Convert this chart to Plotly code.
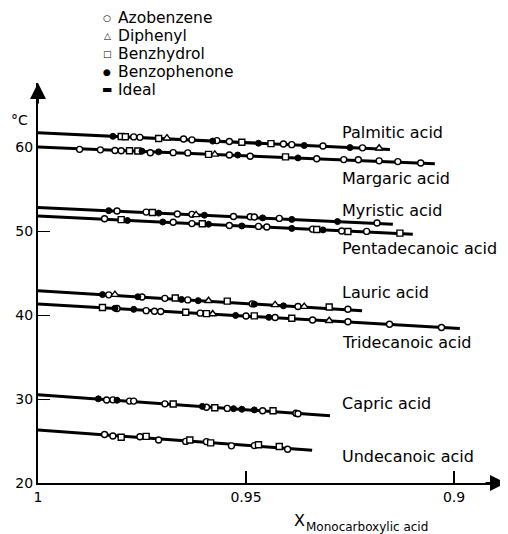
import plotly.graph_objects as go

# ---------------- data ----------------
acids = ["Palmitic acid", "Margaric acid", "Myristic acid", "Pentadecanoic acid",
         "Lauric acid", "Tridecanoic acid", "Capric acid", "Undecanoic acid"]

# ideal lines: start at x = 1, end at ideal_end_x
ideal_start_T = [61.7, 60.0, 52.8, 51.8, 42.9, 41.3, 30.5, 26.3]
ideal_end_x = [0.9154, 0.9046, 0.9147, 0.9099, 0.9221, 0.8986, 0.9298, 0.9341]
ideal_end_T = [59.7, 58.0, 50.8, 49.6, 40.5, 38.4, 28.0, 23.9]

# solvent codes: A Azobenzene, D Diphenyl, H Benzhydrol, B Benzophenone
palmitic_x = [0.982, 0.980, 0.979, 0.977, 0.9755, 0.971, 0.969, 0.965, 0.963, 0.958, 0.957,
              0.954, 0.951, 0.947, 0.944, 0.941, 0.939, 0.936, 0.9315, 0.925, 0.922, 0.918]
palmitic_T = [61.27, 61.25, 61.22, 61.2, 61.15, 61.02, 61.05, 60.95, 60.85, 60.7, 60.76,
              60.65, 60.57, 60.45, 60.4, 60.36, 60.28, 60.18, 60.12, 59.93, 59.9, 59.85]
palmitic_s = list("BHHAAHDAABAAHBHAABABAD")

margaric_x = [0.990, 0.985, 0.9815, 0.980, 0.978, 0.976, 0.975, 0.973, 0.971, 0.9675, 0.964, 0.959,
              0.9575, 0.954, 0.952, 0.949, 0.9405, 0.9375, 0.933, 0.9265, 0.923, 0.918, 0.9135, 0.908]
margaric_T = [59.72, 59.66, 59.58, 59.55, 59.56, 59.52, 59.5, 59.32, 59.42, 59.33, 59.3, 59.12,
              59.12, 59.05, 59.04, 58.9, 58.82, 58.7, 58.6, 58.5, 58.48, 58.35, 58.26, 58.1]
margaric_s = list("AAAAHHBABAAHDABAHBAAAAAA")

myristic_x = [0.983, 0.981, 0.974, 0.9725, 0.971, 0.9665, 0.963, 0.962, 0.960, 0.953, 0.949,
              0.948, 0.946, 0.942, 0.939, 0.928, 0.9185]
myristic_T = [52.42, 52.38, 52.25, 52.2, 52.13, 52.02, 51.98, 51.92, 51.88, 51.72, 51.7,
              51.66, 51.56, 51.5, 51.38, 51.12, 50.95]
myristic_s = list("BAAHBAADBAAABABBA")

pentadecanoic_x = [0.984, 0.980, 0.9785, 0.970, 0.9675, 0.963, 0.9605, 0.959, 0.954, 0.951,
                   0.947, 0.945, 0.939, 0.934, 0.933, 0.9315, 0.927, 0.9255, 0.921, 0.913]
pentadecanoic_T = [51.45, 51.35, 51.25, 51.07, 51.05, 50.88, 50.86, 50.8, 50.66, 50.6,
                   50.55, 50.47, 50.31, 50.22, 50.18, 50.13, 50.0, 49.94, 49.95, 49.75]
pentadecanoic_s = list("AHBBAAHBABAABAHBAHAH")

lauric_x = [0.9845, 0.983, 0.9815, 0.976, 0.975, 0.9695, 0.967, 0.9655, 0.964, 0.9615,
            0.959, 0.9545, 0.9485, 0.948, 0.943, 0.941, 0.9375, 0.936, 0.930, 0.9255]
lauric_T = [42.43, 42.4, 42.42, 42.17, 42.15, 41.98, 42.02, 41.85, 41.8, 41.71,
            41.7, 41.65, 41.33, 41.29, 41.2, 41.09, 41.02, 41.0, 40.95, 40.68]
lauric_s = list("BADBAAHBABDHABDBADHA")

tridecanoic_x = [0.9845, 0.9815, 0.981, 0.977, 0.974, 0.972, 0.9705, 0.9645, 0.961, 0.9595, 0.958,
                 0.9525, 0.950, 0.948, 0.9445, 0.943, 0.939, 0.934, 0.930, 0.9255, 0.9155, 0.903]
tridecanoic_T = [40.9, 40.8, 40.77, 40.67, 40.52, 40.45, 40.42, 40.32, 40.22, 40.16, 40.12,
                 39.95, 39.88, 39.9, 39.72, 39.7, 39.62, 39.4, 39.32, 39.2, 38.9, 38.52]
tridecanoic_s = list("HBABAAAHAHDBAHBAHADAAA")

capric_x = [0.9855, 0.9835, 0.982, 0.981, 0.978, 0.977, 0.9695, 0.9675, 0.9605, 0.9595,
            0.9575, 0.9545, 0.953, 0.951, 0.948, 0.946, 0.9435, 0.938, 0.9375]
capric_T = [30.02, 29.88, 29.9, 29.85, 29.75, 29.75, 29.42, 29.4, 29.12, 29.02,
            28.96, 28.88, 28.85, 28.78, 28.7, 28.6, 28.6, 28.3, 28.25]
capric_s = list("BAABAAAHBAHABBBAHAA")

undecanoic_x = [0.984, 0.982, 0.980, 0.9755, 0.974, 0.971, 0.9645, 0.9635, 0.9595, 0.9585,
                0.9535, 0.948, 0.947, 0.942, 0.940]
undecanoic_T = [25.78, 25.6, 25.45, 25.5, 25.55, 25.12, 24.95, 25.12, 24.92, 24.78,
                24.42, 24.45, 24.55, 24.35, 24.02]
undecanoic_s = list("AAHAHAAHAHAAHHA")

solvent_codes = ["A", "D", "H", "B"]
solvent_names = ["Azobenzene", "Diphenyl", "Benzhydrol", "Benzophenone"]

x_ticks = [1, 0.95, 0.9]
x_tick_text = ["1", "0.95", "0.9"]
y_ticks = [20, 30, 40, 50, 60]

# ---------------- figure ----------------
# page has an 8px body margin, so the figure is 8px smaller and its origin sits at (8, 8)
OFF = 8
W, H = 508 - OFF, 534 - OFF
ML, MR, MT, MB = 38 - OFF, 2, 83 - OFF, 51
PW, PH = W - ML - MR, H - MT - MB

def px2paper(px, py):
    # px, py in page pixels
    return (px - OFF - ML) / PW, (H - MB - (py - OFF)) / PH

FONT = "DejaVu Sans"
fig = go.Figure()

# ideal lines
for t0, xe, te in zip(ideal_start_T, ideal_end_x, ideal_end_T):
    fig.add_trace(go.Scatter(x=[1.0, xe], y=[t0, te], mode="lines",
                             line=dict(color="black", width=3), showlegend=False,
                             hoverinfo="skip"))

all_x = [palmitic_x, margaric_x, myristic_x, pentadecanoic_x, lauric_x, tridecanoic_x, capric_x, undecanoic_x]
all_T = [palmitic_T, margaric_T, myristic_T, pentadecanoic_T, lauric_T, tridecanoic_T, capric_T, undecanoic_T]
all_s = [palmitic_s, margaric_s, myristic_s, pentadecanoic_s, lauric_s, tridecanoic_s, capric_s, undecanoic_s]

marker_style = {
    "A": dict(symbol="circle", size=6, color="white", line=dict(color="black", width=1.4)),
    "D": dict(symbol="triangle-up", size=7, color="white", line=dict(color="black", width=1.4)),
    "H": dict(symbol="square", size=6, color="white", line=dict(color="black", width=1.4)),
    "B": dict(symbol="circle", size=6, color="black", line=dict(color="black", width=1)),
}

for code, name in zip(solvent_codes, solvent_names):
    xs, ys = [], []
    for xa, ta, sa in zip(all_x, all_T, all_s):
        for xv, tv, sv in zip(xa, ta, sa):
            if sv == code:
                xs.append(xv)
                ys.append(tv)
    fig.add_trace(go.Scatter(x=xs, y=ys, mode="markers", name=name,
                             marker=marker_style[code], showlegend=False))

annotations = []
# curve labels
label_x = 0.9274
label_y = [61.67, 56.3, 52.5, 47.86, 42.62, 36.67, 29.52, 23.21]
for name, ly in zip(acids, label_y):
    annotations.append(dict(x=label_x, y=ly, xref="x", yref="y", text=name, showarrow=False,
                            xanchor="left", yanchor="middle",
                            font=dict(family=FONT, size=16, color="black")))

# legend drawn as text
legend_glyphs = ["○", "△", "□", "●", "▬"]
legend_labels = solvent_names + ["Ideal"]
for i, (g, lab) in enumerate(zip(legend_glyphs, legend_labels)):
    py = 18 + i * 18
    gx, gy = px2paper(107, py)
    tx, ty = px2paper(116, py)
    annotations.append(dict(x=gx, y=gy, xref="paper", yref="paper", text=g, showarrow=False,
                            xanchor="center", yanchor="middle",
                            font=dict(family=FONT, size=9 if i < 4 else 11, color="black")))
    annotations.append(dict(x=tx, y=ty, xref="paper", yref="paper", text=lab, showarrow=False,
                            xanchor="left", yanchor="middle",
                            font=dict(family=FONT, size=15.5, color="black")))

# °C label
cx, cy = px2paper(19, 120)
annotations.append(dict(x=cx, y=cy, xref="paper", yref="paper", text="°C", showarrow=False,
                        xanchor="center", yanchor="middle",
                        font=dict(family=FONT, size=14, color="black")))
# x axis title: "X" with a subscript
tx, ty = px2paper(292, 520)
annotations.append(dict(x=tx, y=ty, xref="paper", yref="paper", text="X", showarrow=False,
                        xanchor="left", yanchor="middle",
                        font=dict(family=FONT, size=16, color="black")))
tx, ty = px2paper(304, 527)
annotations.append(dict(x=tx, y=ty, xref="paper", yref="paper", text="Monocarboxylic acid",
                        showarrow=False, xanchor="left", yanchor="middle",
                        font=dict(family=FONT, size=12, color="black")))

# axis arrows
annotations.append(dict(x=0, y=1, xref="paper", yref="paper", ax=0, ay=22,
                        text="", showarrow=True, arrowhead=2, arrowsize=1.6, arrowwidth=2,
                        arrowcolor="black"))
annotations.append(dict(x=1, y=0, xref="paper", yref="paper", ax=-22, ay=0,
                        text="", showarrow=True, arrowhead=2, arrowsize=1.6, arrowwidth=2,
                        arrowcolor="black"))

x_right = 1 - PW / 4160
fig.update_layout(
    width=W, height=H,
    margin=dict(l=ML, r=MR, t=MT, b=MB),
    paper_bgcolor="white", plot_bgcolor="white",
    showlegend=False,
    annotations=annotations,
    xaxis=dict(range=[1.0, x_right], tickvals=x_ticks, ticktext=x_tick_text,
               ticks="inside", ticklen=12, tickwidth=1.5, tickcolor="black",
               showline=True, linewidth=2, linecolor="black", showgrid=False, zeroline=False,
               tickfont=dict(family=FONT, size=14, color="black")),
    yaxis=dict(range=[20, 20 + PH / 8.4], tickvals=y_ticks,
               ticks="inside", ticklen=12, tickwidth=1, tickcolor="black",
               showline=True, linewidth=2, linecolor="black", showgrid=False, zeroline=False,
               tickfont=dict(family=FONT, size=14, color="black")),
)

fig.write_html("out.html")
